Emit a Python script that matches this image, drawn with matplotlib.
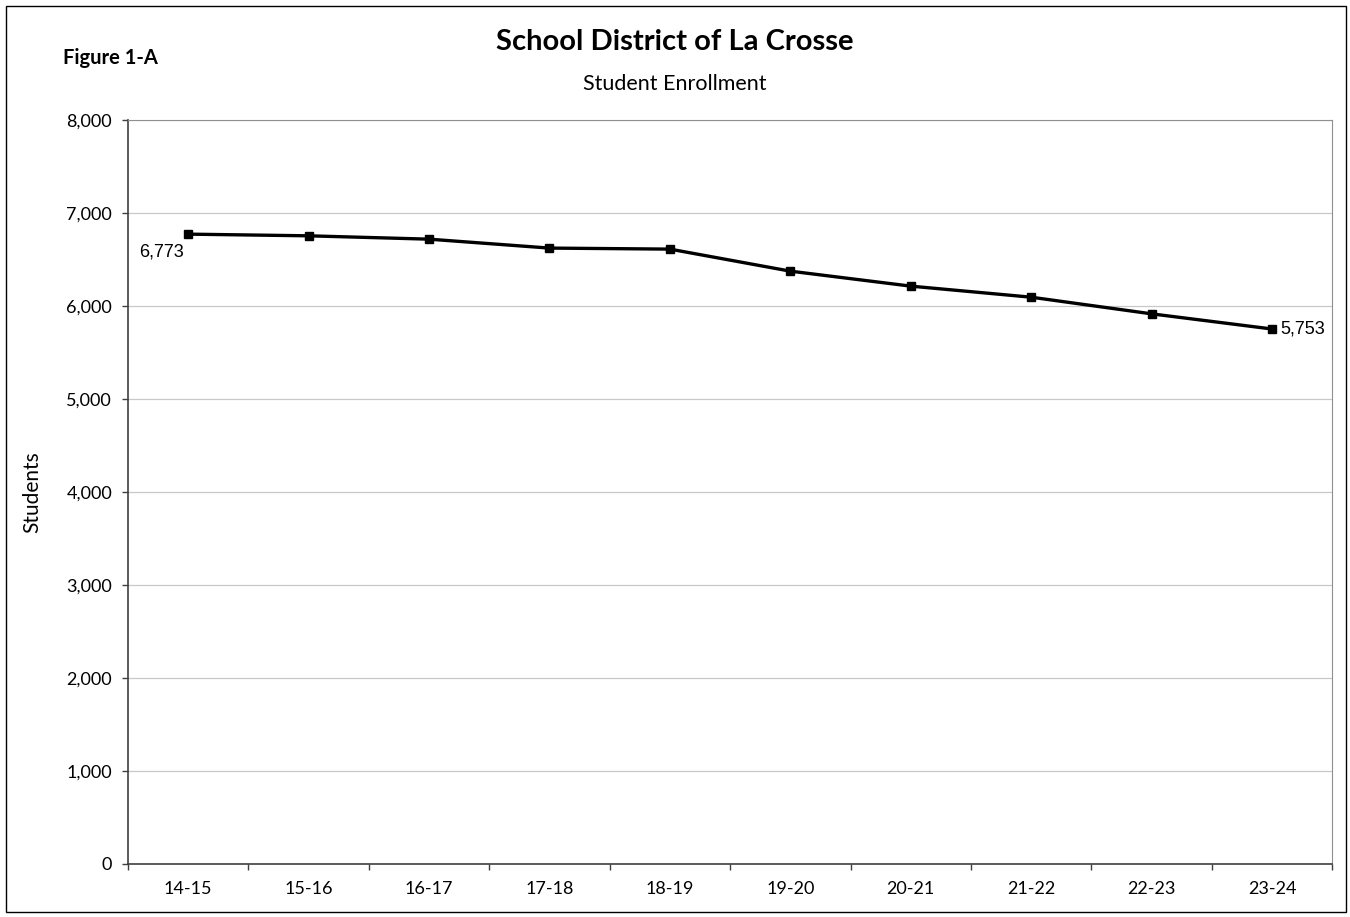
import matplotlib
matplotlib.use('Agg')
import matplotlib.pyplot as plt
from matplotlib.ticker import FuncFormatter, FixedLocator
from matplotlib.patches import Rectangle

# 数据
years = ['14-15', '15-16', '16-17', '17-18', '18-19',
         '19-20', '20-21', '21-22', '22-23', '23-24']
students = [6773, 6755, 6719, 6623, 6612, 6375, 6214, 6095, 5916, 5753]

plt.rcParams['font.family'] = ['Lato', 'DejaVu Sans']

fig = plt.figure(figsize=(13.5, 9.17), dpi=100)
ax = fig.add_axes([0.0948, 0.0578, 0.892, 0.8113])

x = list(range(len(years)))
ax.plot(x, students, color='black', lw=2.4, marker='s', ms=5.5, zorder=3)

# 首尾数据标签
ax.annotate(f'{students[0]:,}', (x[0], students[0]), xytext=(-19, -13),
            textcoords='offset points', fontsize=13,
            family='Liberation Sans', va='center', ha='center')
ax.annotate(f'{students[-1]:,}', (x[-1], students[-1]), xytext=(6, 0),
            textcoords='offset points', fontsize=13,
            family='Liberation Sans', va='center', ha='left')

ax.set_xlim(-0.5, len(years) - 0.5)
ax.set_ylim(0, 8000)
ax.set_yticks(range(0, 8001, 1000))
ax.yaxis.set_major_formatter(FuncFormatter(lambda v, p: f'{int(v):,}'))
ax.set_xticks(x)
ax.set_xticklabels(years)
ax.xaxis.set_minor_locator(FixedLocator([i - 0.5 for i in range(len(years) + 1)]))
ax.tick_params(axis='x', which='major', length=0, pad=12, labelsize=13)
ax.tick_params(axis='x', which='minor', length=4.5, width=1, color='#404040')
ax.tick_params(axis='y', length=4.5, width=1, color='#404040', labelsize=13, pad=7)

ax.grid(axis='y', color='#c8c8c8', lw=0.9)
ax.set_axisbelow(True)
for s in ['top', 'right']:
    ax.spines[s].set_color('#909090')
for s in ['left', 'bottom']:
    ax.spines[s].set_color('#404040')
    ax.spines[s].set_linewidth(1.2)

ax.set_ylabel('Students', fontsize=15)
ax.yaxis.set_label_coords(-0.0714, 0.5)

fig.text(0.5, 0.954, 'School District of La Crosse', ha='center', va='center',
         fontsize=21, fontweight='bold')
fig.text(0.5, 0.908, 'Student Enrollment', ha='center', va='center', fontsize=15.5)
fig.text(0.0467, 0.937, 'Figure 1-A', ha='left', va='center',
         fontsize=14.5, fontweight='bold')

# 外框
fig.patches.append(Rectangle((0.0045, 0.005), 0.9925, 0.988, transform=fig.transFigure,
                             fill=False, edgecolor='black', lw=1))

fig.savefig('out.png', dpi=100)
